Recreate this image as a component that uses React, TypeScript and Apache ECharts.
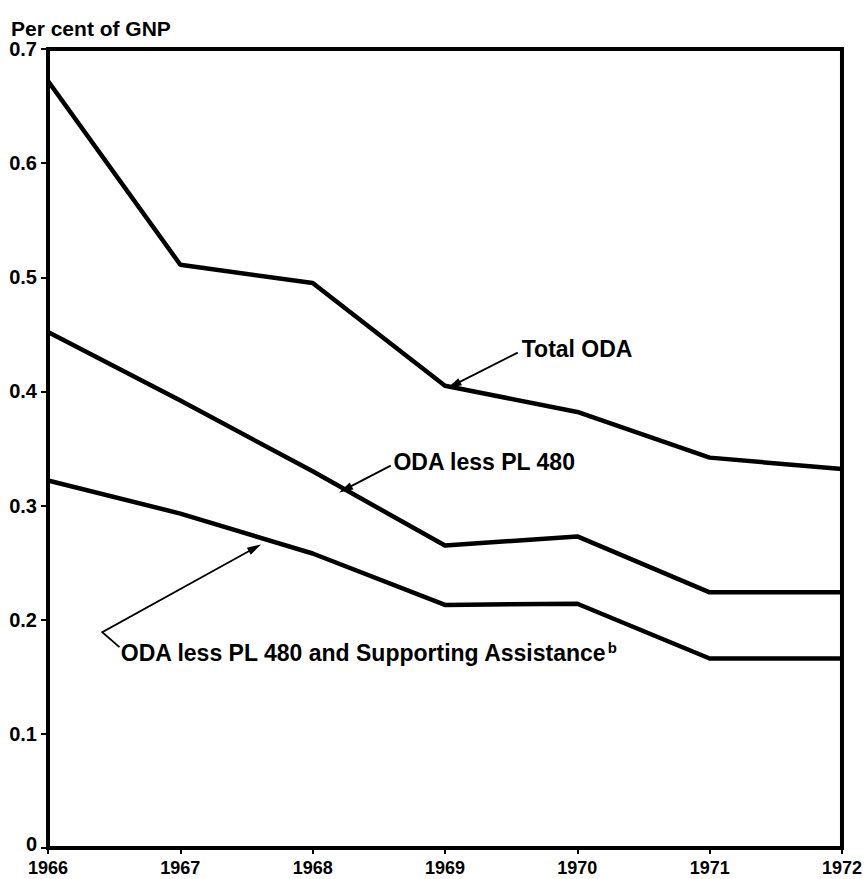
import React, { useEffect, useRef } from "react";
import * as echarts from "echarts";

const years = [1966, 1967, 1968, 1969, 1970, 1971, 1972];
const totalODA = [0.672, 0.511, 0.495, 0.405, 0.382, 0.342, 0.332];
const odaLessPL480 = [0.452, 0.392, 0.33, 0.265, 0.273, 0.224, 0.224];
const odaLessPL480SA = [0.322, 0.293, 0.258, 0.213, 0.214, 0.166, 0.166];
const yTicks = ["0", "0.1", "0.2", "0.3", "0.4", "0.5", "0.6", "0.7"];

const FONT = '"Liberation Sans", Arial, Helvetica, sans-serif';

// annotation anchors in data coordinates [year, value]
const annotations = [
  { text: "Total ODA", at: [1969.58, 0.4375], path: [[1969.55, 0.434]], tip: [1969.02, 0.403] },
  { text: "ODA less PL 480", at: [1968.61, 0.338], path: [[1968.59, 0.335]], tip: [1968.2, 0.3115] },
  {
    text: "ODA less PL 480 and Supporting Assistance",
    sup: "b",
    at: [1966.55, 0.1705],
    path: [[1966.54, 0.176], [1966.41, 0.189]],
    tip: [1967.61, 0.266],
  },
];

function makeSeries(name: string, vals: number[]) {
  return {
    name,
    type: "line",
    data: years.map((y, i) => [y, vals[i]]),
    symbol: "none",
    lineStyle: { color: "#000", width: 4.5, join: "round" },
    z: 3,
  };
}

export default function App() {
  const ref = useRef<HTMLDivElement>(null);
  useEffect(() => {
    if (!ref.current) return;
    const chart = echarts.init(ref.current, undefined, { renderer: "svg" });
    chart.setOption({
      animation: false,
      backgroundColor: "#fff",
      title: {
        text: "Per cent of GNP",
        left: 6,
        top: 13,
        textStyle: { fontSize: 21, fontWeight: "bold", color: "#000", fontFamily: FONT },
      },
      grid: {
        left: 48,
        right: 15,
        top: 49,
        bottom: 31,
        show: true,
        borderColor: "#000",
        borderWidth: 4,
        backgroundColor: "transparent",
      },
      xAxis: {
        type: "value",
        min: years[0],
        max: years[years.length - 1],
        interval: 1,
        splitLine: { show: false },
        axisLine: { show: true, lineStyle: { color: "#000", width: 4 } },
        axisTick: { show: true, length: 6, lineStyle: { color: "#000", width: 2 } },
        axisLabel: {
          color: "#000",
          fontSize: 18,
          fontWeight: "bold",
          fontFamily: FONT,
          margin: 11,
          formatter: (v: number) => String(v),
        },
      },
      yAxis: {
        type: "value",
        min: 0,
        max: 0.7,
        interval: 0.1,
        splitLine: { show: false },
        axisLine: { show: true, lineStyle: { color: "#000", width: 4 } },
        axisTick: { show: true, length: 7, lineStyle: { color: "#000", width: 2 } },
        axisLabel: {
          color: "#000",
          fontSize: 20,
          fontWeight: "bold",
          fontFamily: FONT,
          margin: 11,
          formatter: (v: number) => {
            const s = yTicks[Math.round(v * 10)] ?? String(v);
            return v === 0 ? `{z|${s}}` : s;
          },
          rich: {
            z: {
              fontSize: 20,
              fontWeight: "bold",
              fontFamily: FONT,
              color: "#000",
              padding: [0, 0, 8, 0],
            },
          },
        },
      },
      series: [
        makeSeries("Total ODA", totalODA),
        makeSeries("ODA less PL 480", odaLessPL480),
        makeSeries("ODA less PL 480 and Supporting Assistance", odaLessPL480SA),
      ],
    });

    const px = (p: number[]) => chart.convertToPixel({ gridIndex: 0 }, p) as number[];
    const graphics: any[] = [];
    annotations.forEach((a) => {
      const at = px(a.at);
      const pts = a.path.map(px);
      const tip = px(a.tip);
      const last = pts[pts.length - 1];
      const dx = tip[0] - last[0];
      const dy = tip[1] - last[1];
      const len = Math.sqrt(dx * dx + dy * dy);
      const ux = dx / len;
      const uy = dy / len;
      const L = 14;
      const W = 8;
      const bx = tip[0] - ux * L;
      const by = tip[1] - uy * L;
      const nx = -uy;
      const ny = ux;
      graphics.push({
        type: "polyline",
        shape: { points: [...pts, [bx + ux * 2, by + uy * 2]] },
        style: { stroke: "#000", lineWidth: 1.8, fill: null },
        z: 10,
      });
      graphics.push({
        type: "polygon",
        shape: {
          points: [
            tip,
            [bx + (nx * W) / 2, by + (ny * W) / 2],
            [bx - (nx * W) / 2, by - (ny * W) / 2],
          ],
        },
        style: { fill: "#000" },
        z: 10,
      });
      graphics.push({
        type: "text",
        x: at[0],
        y: at[1],
        style: {
          text: a.sup ? `${a.text}{s|${a.sup}}` : a.text,
          fill: "#000",
          fontSize: 23,
          fontWeight: "bold",
          fontFamily: FONT,
          align: "left",
          verticalAlign: "middle",
          rich: {
            s: {
              fontSize: 15,
              fontWeight: "bold",
              fontFamily: FONT,
              fill: "#000",
              verticalAlign: "top",
              lineHeight: 26,
            },
          },
        },
        z: 10,
      });
    });
    chart.setOption({ graphic: graphics });

    return () => chart.dispose();
  }, []);
  return <div ref={ref} style={{ width: 865, height: 879, position: "absolute", left: 0, top: 0 }} />;
}
